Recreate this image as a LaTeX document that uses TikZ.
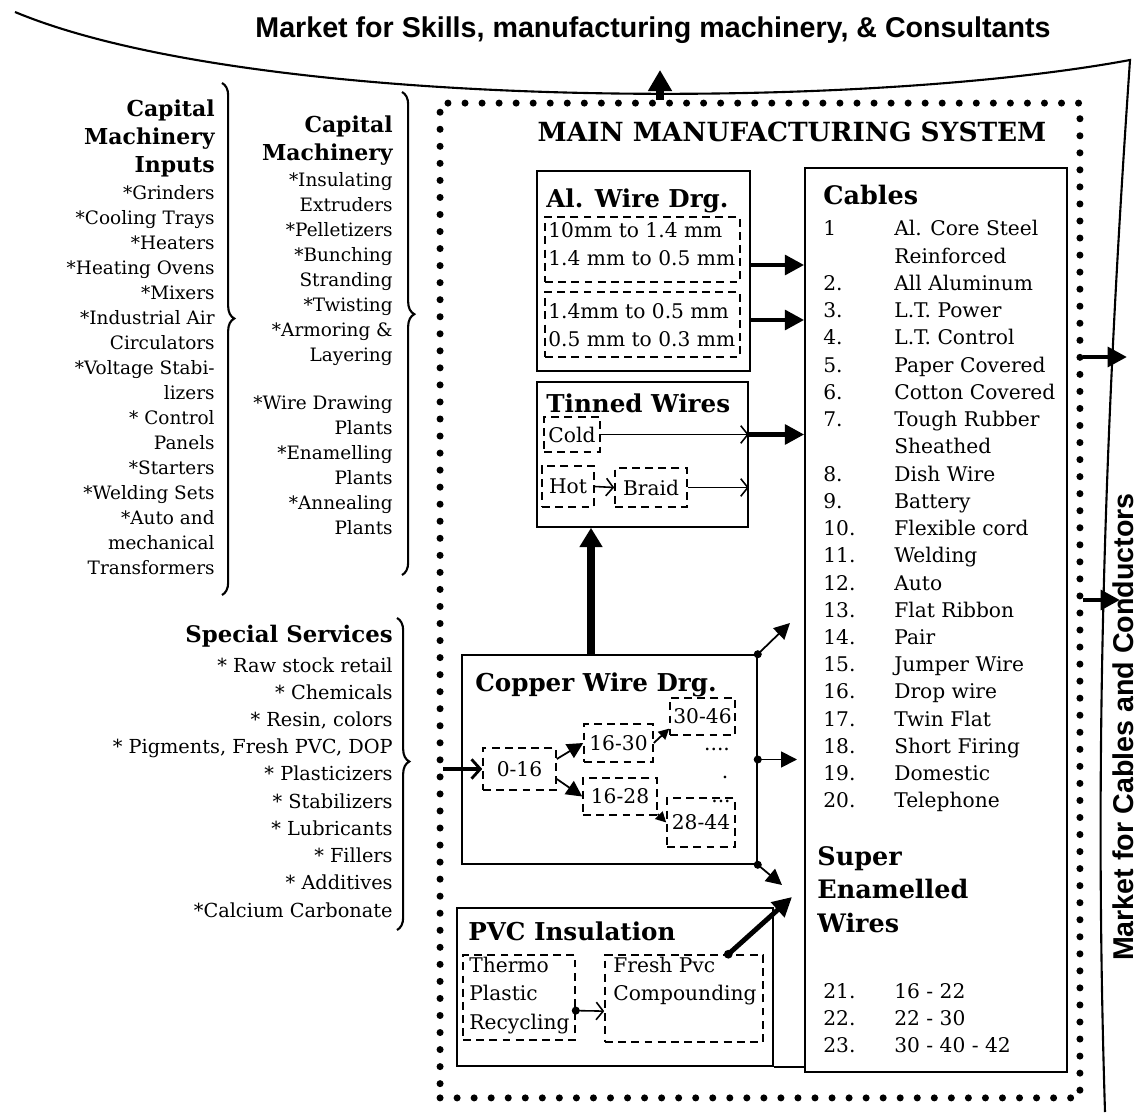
\documentclass[tikz,border=0pt]{standalone}
\usepackage{fontspec}
\setmainfont{DejaVu Serif}
\newfontfamily\mktfont{Liberation Sans}
\usetikzlibrary{arrows.meta,decorations.pathreplacing}
\tikzset{
    box/.style ={
        rectangle,
        draw,
        line width=0.9pt,
        inner sep=0pt
    },
    dbox/.style ={
        rectangle,
        draw,
        line width=0.9pt,
        dash pattern=on 4.5pt off 3pt,
        inner sep=0pt,
        font=\fontsize{11.5}{14}\selectfont
    },
    dotbox/.style ={
        rectangle,
        draw,
        line width=4pt,
        line cap=round,
        dash pattern=on 0pt off 9.7pt,
        inner sep=0pt
    },
    hdr/.style ={
        inner sep=0pt,
        anchor=base west,
        font=\fontsize{14}{18}\selectfont\bfseries
    },
    txt/.style ={
        inner sep=0pt,
        anchor=base west,
        font=\fontsize{11.5}{15.4}\selectfont
    },
    mkt/.style ={
        inner sep=0pt,
        anchor=base,
        font=\mktfont\fontsize{16.3}{18}\selectfont\bfseries
    },
    fat/.style ={
        line width=2.8pt,
        -{Triangle[length=11pt,width=11pt]}
    },
    thinarr/.style ={
        line width=1pt,
        -{Triangle[length=9pt,width=9pt]}
    },
    barb/.style ={
        line width=0.9pt,
        -{Straight Barb[length=4pt,width=10pt]}
    },
    inarr/.style ={
        line width=2.6pt,
        -{Straight Barb[length=5pt,width=11pt,line width=1.6pt]}
    },
    brc/.style ={
        decorate,
        line width=1.2pt,
        decoration={brace,amplitude=7pt,aspect=0.46}
    }
}

\begin{document}
\begin{tikzpicture}[x=0.02cm,y=-0.02cm]
    \useasboundingbox (0,0) rectangle (1139,1114);

    \draw[line width=1.2pt] (15,12) .. controls (250,110) and (850,112) .. (1130,60)
        .. controls (1110,350) and (1092,700) .. (1105,1112);
    \node[mkt] (MKTS) at (653,38) {Market for Skills, manufacturing machinery, \& Consultants};
    \node[mkt, rotate=90] (MKTC) at (1133,727) {Market for Cables and Conductors};

    \node[dotbox, minimum width=12.8cm, minimum height=19.9cm] (MAIN) at (760,600.5) {};
    \node[hdr, anchor=base, font=\fontsize{15}{18}\selectfont\bfseries] (MAINT) at (792,142) {MAIN MANUFACTURING SYSTEM};

    \node[box, minimum width=4.26cm, minimum height=4cm] (ALBOX) at (643.5,271) {};
    \node[hdr] (ALT) at (546,208) {Al. Wire Drg.};
    \node[dbox, minimum width=3.9cm, minimum height=1.3cm] (D1) at (642.5,249.5) {};
    \node[dbox, minimum width=3.9cm, minimum height=1.3cm] (D2) at (642.5,324.5) {};
    \node[txt] (D1T) at (548,238) {\begin{tabular}[t]{@{}l@{}}10mm to 1.4 mm\\1.4 mm to 0.5 mm\end{tabular}};
    \node[txt] (D2T) at (548,319) {\begin{tabular}[t]{@{}l@{}}1.4mm to 0.5 mm\\0.5 mm to 0.3 mm\end{tabular}};

    \node[box, minimum width=4.22cm, minimum height=2.9cm] (TINBOX) at (642.5,454.5) {};
    \node[hdr] (TINT) at (546,413) {Tinned Wires};
    \node[dbox, minimum width=1.12cm, minimum height=0.7cm] (COLD) at (572,434.5) {Cold};
    \node[dbox, minimum width=1.04cm, minimum height=0.82cm] (HOT) at (568,486.5) {Hot};
    \node[dbox, minimum width=1.44cm, minimum height=0.78cm] (BRAID) at (651,487.5) {Braid};

    \node[box, minimum width=5.9cm, minimum height=4.18cm] (CUBOX) at (609.5,759.5) {};
    \node[hdr] (CUT) at (475,691) {Copper Wire Drg.};
    \node[dbox, minimum width=1.46cm, minimum height=0.84cm] (B016) at (519.5,769) {0-16};
    \node[dbox, minimum width=1.38cm, minimum height=0.76cm] (B1630) at (618.5,743) {16-30};
    \node[dbox, minimum width=1.48cm, minimum height=0.74cm] (B1628) at (620,796.5) {16-28};
    \node[dbox, minimum width=1.3cm, minimum height=0.74cm] (B3046) at (702.5,716.5) {30-46};
    \node[dbox, minimum width=1.36cm, minimum height=0.98cm] (B2844) at (701,822.5) {28-44};
    \node[txt, anchor=base] (DOTSA) at (717,750) {....};
    \node[txt, anchor=base] (DOTSB) at (725,778) {.};
    \node[txt, anchor=base] (DOTSC) at (721,802) {...};

    \node[box, minimum width=6.32cm, minimum height=3.16cm] (PVCBOX) at (615,987) {};
    \node[hdr] (PVCT) at (468,940) {PVC Insulation};
    \node[dbox, minimum width=2.24cm, minimum height=1.7cm] (THERMO) at (519,997.5) {};
    \node[txt, font=\fontsize{11.5}{16.5}\selectfont] (THERMOT) at (469,972) {\begin{tabular}[t]{@{}l@{}}Thermo\\Plastic\\Recycling\end{tabular}};
    \node[dbox, minimum width=3.16cm, minimum height=1.74cm] (FRESH) at (684,998.5) {};
    \node[txt, font=\fontsize{11.5}{16.5}\selectfont] (FRESHT) at (613,972) {\begin{tabular}[t]{@{}l@{}}Fresh Pvc\\Compounding\end{tabular}};

    \node[box, minimum width=5.24cm, minimum height=18.08cm] (CABLES) at (936,620) {};
    \node[hdr, font=\fontsize{14.5}{18}\selectfont\bfseries] (CABT) at (823,205) {Cables};
    \node[txt, font=\fontsize{11.5}{15.5}\selectfont] (CABL) at (823,236) {\begin{tabular}[t]{@{}p{1.42cm}@{}l@{}}
        1 & Al. Core Steel\\ & Reinforced\\ 2. & All Aluminum\\ 3. & L.T. Power\\ 4. & L.T. Control\\
        5. & Paper Covered\\ 6. & Cotton Covered\\ 7. & Tough Rubber\\ & Sheathed\\ 8. & Dish Wire\\
        9. & Battery\\ 10. & Flexible cord\\ 11. & Welding\\ 12. & Auto\\ 13. & Flat Ribbon\\
        14. & Pair\\ 15. & Jumper Wire\\ 16. & Drop wire\\ 17. & Twin Flat\\ 18. & Short Firing\\
        19. & Domestic\\ 20. & Telephone\end{tabular}};
    \node[hdr, font=\fontsize{14.5}{19.3}\selectfont\bfseries] (SEWT) at (817,865) {\begin{tabular}[t]{@{}l@{}}Super\\Enamelled\\Wires\end{tabular}};
    \node[txt, font=\fontsize{11.5}{15.6}\selectfont] (SEWL) at (823,998) {\begin{tabular}[t]{@{}p{1.42cm}@{}l@{}}21. & 16 - 22\\ 22. & 22 - 30\\ 23. & 30 - 40 - 42\end{tabular}};

    \node[hdr, anchor=base east, font=\fontsize{12.5}{15.9}\selectfont\bfseries] (CAPIN) at (215,117) {\begin{tabular}[t]{@{}r@{}}Capital\\Machinery\\Inputs\end{tabular}};
    \node[txt, anchor=base east, font=\fontsize{10.5}{14.2}\selectfont] (CAPINL) at (215,200) {\begin{tabular}[t]{@{}r@{}}{*}Grinders\\{*}Cooling Trays\\{*}Heaters\\{*}Heating Ovens\\{*}Mixers\\{*}Industrial Air\\Circulators\\{*}Voltage Stabi-\\lizers\\{*} Control\\Panels\\{*}Starters\\{*}Welding Sets\\{*}Auto and\\mechanical\\Transformers\end{tabular}};
    \node[hdr, anchor=base east, font=\fontsize{12.5}{15.9}\selectfont\bfseries] (CAPM) at (393,133) {\begin{tabular}[t]{@{}r@{}}Capital\\Machinery\end{tabular}};
    \node[txt, anchor=base east, font=\fontsize{10.5}{14.2}\selectfont] (CAPML) at (393,187) {\begin{tabular}[t]{@{}r@{}}{*}Insulating\\Extruders\\{*}Pelletizers\\{*}Bunching\\Stranding\\{*}Twisting\\{*}Armoring \&\\Layering\\[13pt]{*}Wire Drawing\\Plants\\{*}Enamelling\\Plants\\{*}Annealing\\Plants\end{tabular}};
    \node[hdr, anchor=base east, font=\fontsize{13}{16}\selectfont\bfseries] (SPEC) at (393,642) {Special Services};
    \node[txt, anchor=base east, font=\fontsize{11}{15.5}\selectfont] (SPECL) at (393,672) {\begin{tabular}[t]{@{}r@{}}{*} Raw stock retail\\{*} Chemicals\\{*} Resin, colors\\{*} Pigments, Fresh PVC, DOP\\{*} Plasticizers\\{*} Stabilizers\\{*} Lubricants\\{*} Fillers\\{*} Additives\\{*}Calcium Carbonate\end{tabular}};

    \draw[brc] (222,83) -- (222,595);
    \draw[brc] (402,92) -- (402,575);
    \draw[brc] (397,618) -- (397,930);

    \coordinate (UP) at (660,70);
    \coordinate (Y1) at (0,265);
    \coordinate (Y2) at (0,320);
    \coordinate (X1) at (591,0);
    \coordinate (J1) at (790,623);
    \coordinate (J2) at (797,759.5);
    \coordinate (J3) at (782,885);
    \coordinate (J4) at (792,897);
    \coordinate (SSIN) at (443,769);
    \coordinate (R1) at (1127,357);
    \coordinate (R2) at (1120,600);

    \draw[fat, line width=4pt, -{Triangle[length=12pt,width=13pt]}] (MAIN.north -| UP) -- (UP);
    \draw[fat] (ALBOX.east |- Y1) -- (CABLES.west |- Y1);
    \draw[fat] (ALBOX.east |- Y2) -- (CABLES.west |- Y2);
    \draw[fat] (TINBOX.east |- COLD) -- (CABLES.west |- COLD);
    \draw[barb] (COLD.east) -- (TINBOX.east |- COLD);
    \draw[barb] (HOT.east) -- (BRAID.west);
    \draw[barb] (BRAID.east) -- (TINBOX.east |- BRAID);
    \draw[fat, line width=4pt, -{Triangle[length=11pt,width=12.5pt]}] (CUBOX.north -| X1) -- (TINBOX.south -| X1);

    \draw[inarr] (SSIN) -- (B016.west);
    \draw[thinarr] (B016.15) -- (B1630.west);
    \draw[thinarr] (B016.-15) -- (B1628.west);
    \draw[thinarr, -{Triangle[length=6pt,width=6pt]}] (B1630.east) -- (B3046.200);
    \draw[thinarr, -{Triangle[length=6pt,width=6pt]}] (B1628.-25) -- (B2844.west);

    \fill (CUBOX.north east) circle (2.3pt);
    \fill (CUBOX.east) circle (2.3pt);
    \fill (CUBOX.south east) circle (2.3pt);
    \draw[thinarr] (CUBOX.north east) -- (J1);
    \draw[thinarr] (CUBOX.east) -- (J2);
    \draw[thinarr] (CUBOX.south east) -- (J3);

    \fill (THERMO.-13) circle (2.3pt);
    \draw[barb] (THERMO.-13) -- (FRESH.189);
    \fill (FRESH.45) circle (2.5pt);
    \draw[fat] (FRESH.45) -- (J4);
    \draw[line width=0.9pt] (PVCBOX.south east) -- (PVCBOX.south east -| CABLES.west);

    \draw[fat] (MAIN.east |- R1) -- (R1);
    \draw[fat] (MAIN.east |- R2) -- (R2);
\end{tikzpicture}
\end{document}
